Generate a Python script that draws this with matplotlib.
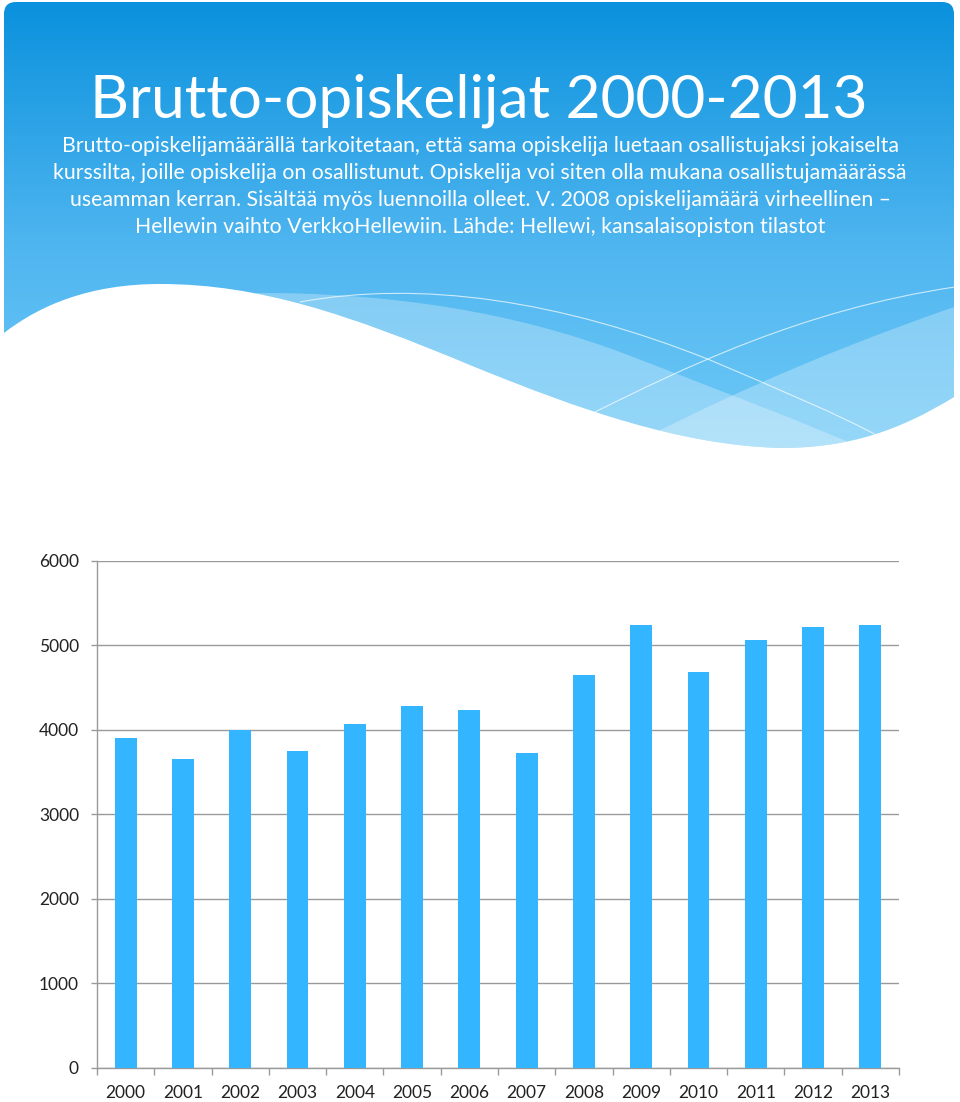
import matplotlib
matplotlib.use("Agg")
import matplotlib.pyplot as plt
import numpy as np
from matplotlib.path import Path
from matplotlib.patches import PathPatch

# ---- data ----
years = ["2000", "2001", "2002", "2003", "2004", "2005", "2006",
         "2007", "2008", "2009", "2010", "2011", "2012", "2013"]
students = [3900, 3650, 4000, 3750, 4070, 4285, 4235,
            3730, 4650, 5245, 4685, 5065, 5215, 5235]
y_ticks = [0, 1000, 2000, 3000, 4000, 5000, 6000]

title = "Brutto-opiskelijat 2000-2013"
subtitle_lines = [
    "Brutto-opiskelijamäärällä tarkoitetaan, että sama opiskelija luetaan osallistujaksi jokaiselta",
    "kurssilta, joille opiskelija on osallistunut. Opiskelija voi siten olla mukana osallistujamäärässä",
    "useamman kerran. Sisältää myös luennoilla olleet. V. 2008 opiskelijamäärä virheellinen –",
    "Hellewin vaihto VerkkoHellewiin. Lähde: Hellewi, kansalaisopiston tilastot",
]

W, H = 960, 1102
fig = plt.figure(figsize=(W / 100, H / 100), dpi=100)
fig.patch.set_facecolor("white")

# ---- background decoration (pixel coordinates) ----
bg = fig.add_axes([0, 0, 1, 1], zorder=0)
bg.set_xlim(0, W)
bg.set_ylim(H, 0)
bg.axis("off")

M, L, C3, C4, CL = Path.MOVETO, Path.LINETO, Path.CURVE3, Path.CURVE4, Path.CLOSEPOLY
verts = [(4, 333), (4, 14), (4, 2), (16, 2), (942, 2), (954, 2), (954, 14), (954, 397),
         (900, 430), (850, 448), (780, 448),
         (680, 445), (580, 410), (470, 365),
         (350, 315), (260, 284), (160, 284),
         (90, 284), (40, 305), (4, 333), (4, 333)]
codes = [M, L, C3, C3, L, C3, C3, L,
         C4, C4, C4, C4, C4, C4, C4, C4, C4, C4, C4, C4, CL]
slide_path = Path(verts, codes)
clip_patch = PathPatch(slide_path, facecolor="none", edgecolor="none")
bg.add_patch(clip_patch)

# vertical gradient
ys = np.linspace(0, 460, 461)
stops_y = [0, 250, 460]
stops_c = np.array([[10, 145, 221], [80, 182, 240], [112, 202, 247]]) / 255.0
grad = np.stack([np.interp(ys, stops_y, stops_c[:, k]) for k in range(3)], axis=1)
img = np.repeat(grad[:, None, :], 2, axis=1)
im = bg.imshow(img, extent=(0, W, 460, 0), aspect="auto", interpolation="bilinear", zorder=1)
im.set_clip_path(clip_patch)

# lighter wave bands
bandA = Path([(250, 293), (400, 292), (520, 315), (620, 352),
              (700, 383), (800, 420), (890, 460),
              (890, 600), (250, 600), (250, 293)],
             [M, C4, C4, C4, C4, C4, C4, L, L, CL])
bandB = Path([(620, 450), (700, 410), (800, 360), (960, 305),
              (960, 600), (620, 600), (620, 450)],
             [M, C4, C4, C4, L, L, CL])
for p in (bandA, bandB):
    pp = PathPatch(p, facecolor="white", edgecolor="none", alpha=0.28, zorder=2)
    bg.add_patch(pp)
    pp.set_clip_path(clip_patch)

line1 = Path([(300, 302), (420, 280), (560, 300), (710, 360),
              (780, 390), (840, 415), (880, 437)],
             [M, C4, C4, C4, C4, C4, C4])
line2 = Path([(593, 413), (680, 370), (800, 310), (955, 287)], [M, C4, C4, C4])
for p in (line1, line2):
    lp = PathPatch(p, facecolor="none", edgecolor="white", lw=0.8, alpha=0.7, zorder=3)
    bg.add_patch(lp)
    lp.set_clip_path(clip_patch)

# ---- texts ----
bg.text(479, 118, title, fontsize=43.5, color="white", family="Lato",
        ha="center", va="baseline", zorder=5)
for i, line in enumerate(subtitle_lines):
    bg.text(480, 152 + 27 * i, line, fontsize=15.3, color="white", family="Lato",
            ha="center", va="baseline", zorder=5)

# ---- bar chart ----
ax = fig.add_axes([97 / W, 1 - 1068 / H, (899 - 97) / W, (1068 - 560.7) / H], zorder=2)
ax.patch.set_alpha(0)
x = np.arange(len(years))
ax.bar(x, students, width=0.38, color="#33B5FF", zorder=3)
ax.set_xlim(-0.5, len(years) - 0.5)
ax.set_ylim(0, 6000)
ax.set_yticks(y_ticks)
ax.set_yticklabels([str(v) for v in y_ticks])
ax.yaxis.grid(True, color="#9a9a9a", lw=1.0, zorder=1)
ax.set_axisbelow(True)
for s in ("top", "right"):
    ax.spines[s].set_visible(False)
for s in ("left", "bottom"):
    ax.spines[s].set_color("#9a9a9a")
    ax.spines[s].set_linewidth(1.0)
ax.set_xticks(x)
ax.set_xticklabels(years)
ax.set_xticks(np.arange(-0.5, len(years)), minor=True)
ax.tick_params(axis="x", which="major", length=0, pad=12, labelsize=12.5, labelcolor="#222222")
ax.tick_params(axis="x", which="minor", length=5, color="#9a9a9a", width=1)
ax.tick_params(axis="y", length=4, color="#9a9a9a", width=1, pad=9, labelsize=12.5,
               labelcolor="#222222")
for lab in ax.get_xticklabels() + ax.get_yticklabels():
    lab.set_family("Lato")

fig.savefig("out.png", dpi=100)
